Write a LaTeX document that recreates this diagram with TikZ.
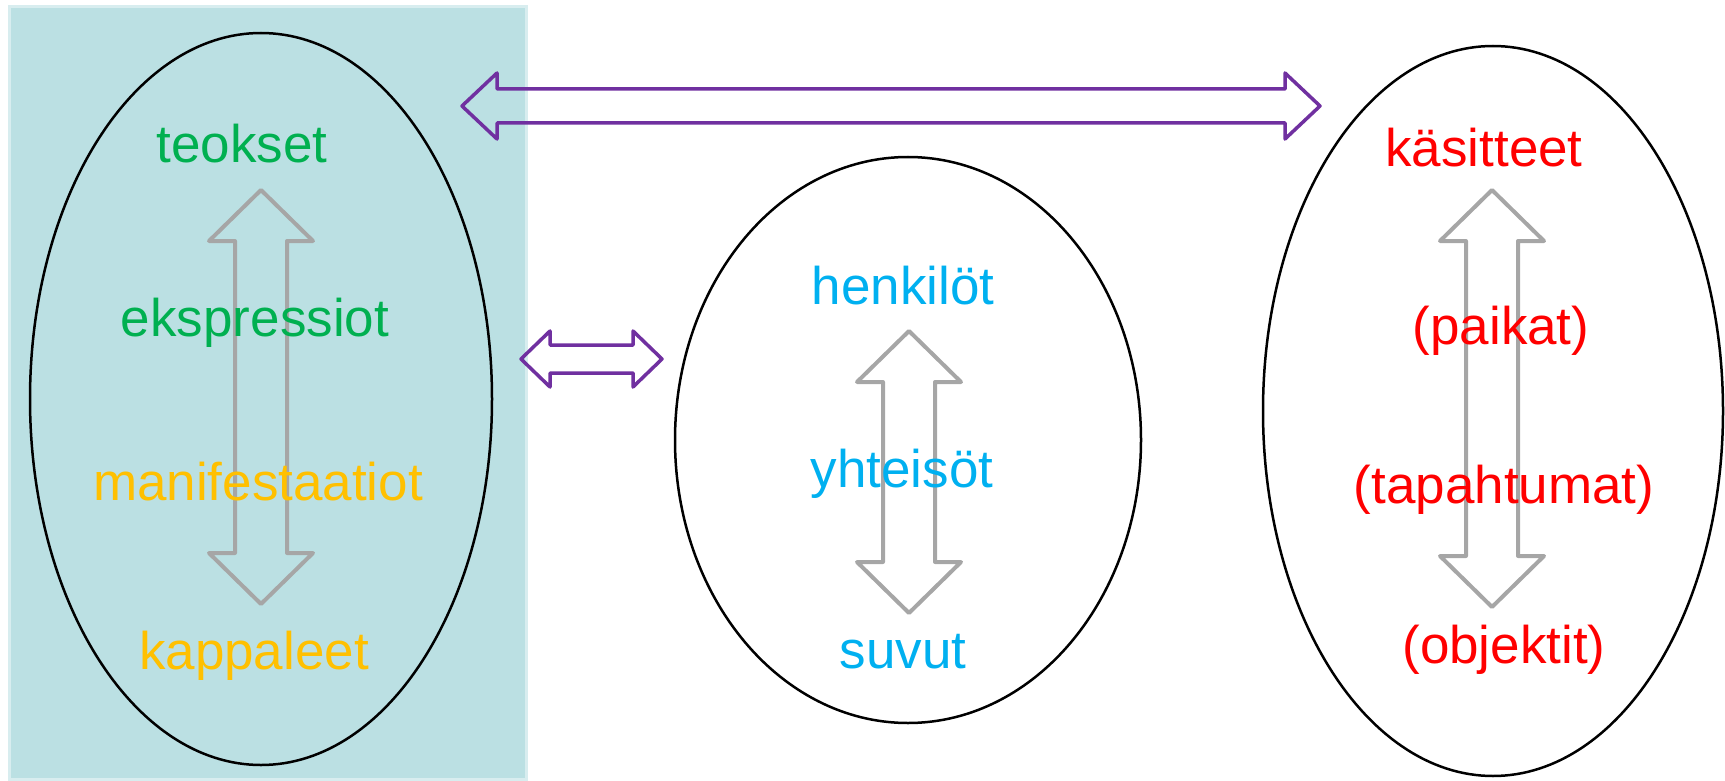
\documentclass[tikz,border=0pt]{standalone}
\usepackage{fontspec}
\setmainfont{Liberation Sans}
\usetikzlibrary{shapes.geometric}
\definecolor{bgblue}{RGB}{187,224,227}
\definecolor{bgedge}{RGB}{216,237,239}
\definecolor{frbrgreen}{RGB}{0,176,80}
\definecolor{frbrorange}{RGB}{255,192,0}
\definecolor{frbrblue}{RGB}{0,176,240}
\definecolor{frbrred}{RGB}{255,0,0}
\definecolor{linkpurple}{RGB}{112,48,160}
\definecolor{arrowgrey}{RGB}{166,166,166}
\tikzset{
  groupell/.style={ellipse, draw=black, line width=2.5pt, inner sep=0pt},
  greyblock/.style={draw=arrowgrey, line width=4pt, line join=round},
  purpleblock/.style={draw=linkpurple, line width=3.5pt, line join=round},
  lbl/.style={anchor=base, inner sep=0pt, font=\fontsize{53}{60}\selectfont},
}
% vertical double block arrow: x, top tip, bottom tip
\newcommand\VDblArrow[3]{%
  \draw[greyblock] (#1,#2) -- (#1+52,#2+51) -- (#1+26,#2+51) -- (#1+26,#3-51)
    -- (#1+52,#3-51) -- (#1,#3) -- (#1-52,#3-51) -- (#1-26,#3-51)
    -- (#1-26,#2+51) -- (#1-52,#2+51) -- cycle;}
% horizontal double block arrow: y, left tip, right tip, head length, head half, shaft half
\newcommand\HDblArrow[6]{%
  \draw[purpleblock] (#2,#1) -- (#2+#4,#1-#5) -- (#2+#4,#1-#6) -- (#3-#4,#1-#6)
    -- (#3-#4,#1-#5) -- (#3,#1) -- (#3-#4,#1+#5) -- (#3-#4,#1+#6)
    -- (#2+#4,#1+#6) -- (#2+#4,#1+#5) -- cycle;}
\begin{document}
\begin{tikzpicture}[x=1pt,y=-1pt]
\useasboundingbox (0,0) rectangle (1725,781);
% shaded panel
\fill[bgblue, draw=bgedge, line width=3pt] (9,7) rectangle (526,779);
% ellipses
\node[groupell, minimum width=462pt, minimum height=732pt] (works) at (261,399) {};
\node[groupell, minimum width=466pt, minimum height=566pt] (agents) at (908,440) {};
\node[groupell, minimum width=460pt, minimum height=730pt] (subjects) at (1493,411) {};
% grey double arrows
\VDblArrow{261}{190}{604}
\VDblArrow{909}{331}{613}
\VDblArrow{1492}{190}{607}
% purple double arrows
\HDblArrow{106}{462}{1320}{35}{33}{17}
\HDblArrow{359}{521}{662}{29}{28}{14}
% labels
\node[lbl, text=frbrgreen] (teokset) at (242,163) {teokset};
\node[lbl, text=frbrgreen] (ekspressiot) at (255,336) {ekspressiot};
\node[lbl, text=frbrorange] (manifestaatiot) at (258,500) {manifestaatiot};
\node[lbl, text=frbrorange] (kappaleet) at (254,669) {kappaleet};
\node[lbl, text=frbrblue] (henkilot) at (903,304) {henkilöt};
\node[lbl, text=frbrblue] (yhteisot) at (902,487) {yhteisöt};
\node[lbl, text=frbrblue] (suvut) at (903,668) {suvut};
\node[lbl, text=frbrred] (kasitteet) at (1484,167) {käsitteet};
\node[lbl, text=frbrred] (paikat) at (1501,344) {(paikat)};
\node[lbl, text=frbrred] (tapahtumat) at (1504,503) {(tapahtumat)};
\node[lbl, text=frbrred] (objektit) at (1504,663) {(objektit)};
\end{tikzpicture}
\end{document}
